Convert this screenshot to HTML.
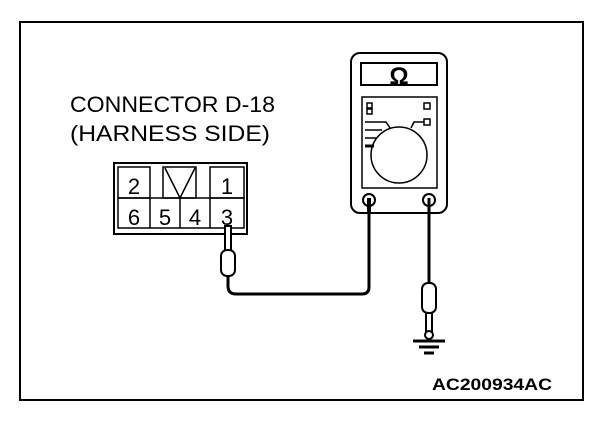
<!DOCTYPE html>
<html><head><style>body{margin:0;background:#fff}svg{display:block}</style></head><body>
<svg width="608" height="426" viewBox="0 0 608 426" xmlns="http://www.w3.org/2000/svg" font-family="Liberation Sans, sans-serif">
<rect x="20" y="22" width="563" height="378" fill="none" stroke="#000" stroke-width="2"/>
<text x="70" y="112" font-size="22" textLength="205" lengthAdjust="spacingAndGlyphs">CONNECTOR D-18</text>
<text x="70" y="141" font-size="22" textLength="200" lengthAdjust="spacingAndGlyphs">(HARNESS SIDE)</text>
<text x="432" y="390" font-size="17" font-weight="bold" textLength="120" lengthAdjust="spacingAndGlyphs">AC200934AC</text>
<!-- connector -->
<rect x="114" y="163" width="133" height="71" fill="none" stroke="#000" stroke-width="2"/>
<g fill="none" stroke="#000" stroke-width="1.5">
<rect x="118" y="167" width="32" height="31"/>
<rect x="163" y="167" width="33" height="31"/>
<rect x="210" y="167" width="34" height="31"/>
<rect x="118" y="198" width="126" height="30"/>
<line x1="150" y1="198" x2="150" y2="228"/><line x1="180" y1="198" x2="180" y2="228"/><line x1="210" y1="198" x2="210" y2="228"/>
<polyline points="165,168 180,198 195,168"/>
</g>
<g font-size="22" text-anchor="middle">
<text x="134" y="194">2</text><text x="227" y="194">1</text>
<text x="134" y="225">6</text><text x="165" y="225">5</text><text x="195" y="225">4</text><text x="227" y="225">3</text>
</g>
<!-- probe at connector -->
<rect x="225" y="226" width="6" height="26" fill="#fff" stroke="#000" stroke-width="2"/>
<rect x="221" y="250" width="14" height="26" rx="6" fill="#fff" stroke="#000" stroke-width="2"/>
<path d="M228 276 V286 Q228 294 236 294 H362 Q369 294 369 287 V200" fill="none" stroke="#000" stroke-width="3"/>
<!-- meter -->
<rect x="351" y="53" width="96" height="160" rx="9" fill="#fff" stroke="#000" stroke-width="2"/>
<rect x="361" y="63" width="76" height="22" fill="none" stroke="#000" stroke-width="2"/>
<text x="399" y="84" font-size="24" font-weight="bold" text-anchor="middle">Ω</text>
<rect x="362" y="97" width="75" height="91" fill="none" stroke="#000" stroke-width="1.5"/>
<circle cx="399" cy="155" r="28" fill="#fff" stroke="#000" stroke-width="1.5"/>
<g fill="none" stroke="#000" stroke-width="1.5">
<rect x="367" y="103" width="5" height="5"/><rect x="367" y="109" width="5" height="5"/>
<rect x="424" y="103" width="6" height="6"/><rect x="424" y="119" width="6" height="6"/>
<polyline points="365,122 386,122 390,128"/><polyline points="424,122 414,122 411,128"/>
<line x1="365" y1="130" x2="382" y2="130"/><line x1="365" y1="138" x2="376" y2="138"/>
</g>
<line x1="365" y1="146" x2="374" y2="146" stroke="#000" stroke-width="3"/>
<circle cx="369" cy="200" r="6" fill="#fff" stroke="#000" stroke-width="2"/>
<circle cx="429" cy="200" r="6" fill="#fff" stroke="#000" stroke-width="2"/>
<line x1="369" y1="198" x2="369" y2="213" stroke="#000" stroke-width="4"/>
<line x1="429" y1="198" x2="429" y2="284" stroke="#000" stroke-width="3"/>
<!-- ground probe -->
<rect x="422" y="283" width="14" height="30" rx="6" fill="#fff" stroke="#000" stroke-width="2"/>
<rect x="426" y="313" width="6" height="20" fill="#fff" stroke="#000" stroke-width="2"/>
<circle cx="429" cy="335" r="4" fill="#fff" stroke="#000" stroke-width="2"/>
<g stroke="#000" stroke-width="3">
<line x1="413" y1="341" x2="445" y2="341"/><line x1="419" y1="347" x2="439" y2="347"/><line x1="424" y1="353" x2="434" y2="353"/>
</g>
</svg>
</body></html>
